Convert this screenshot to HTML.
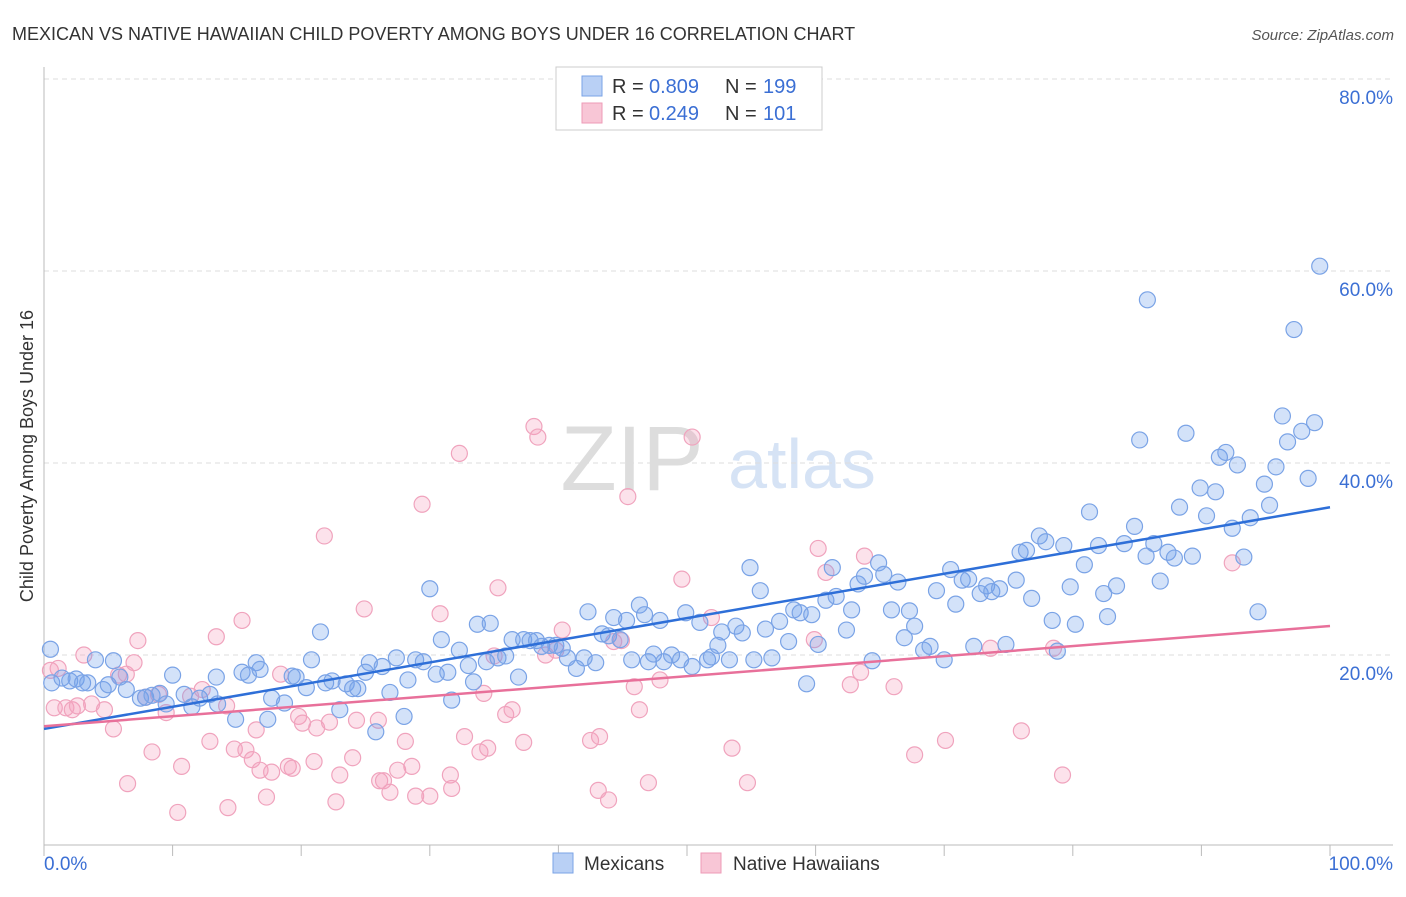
<!DOCTYPE html>
<html><head><meta charset="utf-8"><style>
body{margin:0;background:#fff;font-family:"Liberation Sans",sans-serif;}
svg text{font-family:"Liberation Sans",sans-serif;}
</style></head><body>
<svg id="chart" width="1406" height="892" xmlns="http://www.w3.org/2000/svg">
<text x="12" y="40" font-size="18" fill="#333">MEXICAN VS NATIVE HAWAIIAN CHILD POVERTY AMONG BOYS UNDER 16 CORRELATION CHART</text>
<text x="1394" y="40" font-size="15" fill="#555" font-style="italic" text-anchor="end">Source: ZipAtlas.com</text>
<text x="33" y="456" font-size="18" fill="#333" text-anchor="middle" transform="rotate(-90 33 456)">Child Poverty Among Boys Under 16</text>
<g><text x="632" y="490" font-size="92" fill="#ddd" font-family="Liberation Serif" text-anchor="middle">ZIP</text><text x="802" y="488" font-size="70" fill="#d6e3f5" text-anchor="middle">atlas</text></g>
<g id="grid"></g><g id="axes"></g><g id="pts"></g><g id="lines"></g>
<g>
<rect x="556" y="67" width="266" height="63" fill="#fff" stroke="#ccc"/>
<rect x="582" y="76" width="20" height="20" fill="#b9d0f5" stroke="#7aa3e6"/>
<rect x="582" y="103" width="20" height="20" fill="#f8c6d6" stroke="#ee9bb7"/>
<text x="612" y="93" font-size="20" fill="#333">R =</text><text x="649" y="93" font-size="20" fill="#3b6fd4">0.809</text>
<text x="725" y="93" font-size="20" fill="#333">N =</text><text x="763" y="93" font-size="20" fill="#3b6fd4">199</text>
<text x="612" y="120" font-size="20" fill="#333">R =</text><text x="649" y="120" font-size="20" fill="#3b6fd4">0.249</text>
<text x="725" y="120" font-size="20" fill="#333">N =</text><text x="763" y="120" font-size="20" fill="#3b6fd4">101</text>
</g>
<g>
<rect x="553" y="853" width="20" height="20" fill="#b9d0f5" stroke="#7aa3e6"/>
<text x="584" y="870" font-size="19" fill="#333">Mexicans</text>
<rect x="701" y="853" width="20" height="20" fill="#f8c6d6" stroke="#ee9bb7"/>
<text x="733" y="870" font-size="19" fill="#333">Native Hawaiians</text>
</g>
</svg>
<script>
const yTicks=[20,40,60,80];
const yTickLabels=["20.0%","40.0%","60.0%","80.0%"];
const xTicks=[0,10,20,30,40,50,60,70,80,90,100];
const mexX=[0.5,0.6,1.4,2.0,2.5,3.0,3.4,4.0,4.6,5.0,5.4,5.9,6.4,7.5,7.9,8.4,9.0,9.5,10.0,10.9,11.5,12.1,12.9,13.4,13.5,14.9,15.4,15.9,16.5,16.8,17.4,17.7,18.7,19.3,19.6,20.4,20.8,21.5,21.9,22.4,23.0,23.5,24.0,24.4,25.0,25.3,25.8,26.3,26.9,27.4,28.0,28.3,28.9,29.5,30.0,30.5,30.9,31.4,31.7,32.3,33.0,33.4,33.7,34.4,34.7,35.3,35.9,36.4,36.9,37.3,37.8,38.3,38.7,39.3,39.8,40.3,40.7,41.4,42.0,42.3,42.9,43.4,43.9,44.3,44.8,45.3,45.7,46.3,46.7,47.0,47.4,47.9,48.2,48.8,49.5,49.9,50.4,51.0,51.6,51.9,52.4,52.7,53.3,53.8,54.3,54.9,55.2,55.7,56.1,56.6,57.2,57.9,58.3,58.8,59.3,59.7,60.2,60.8,61.3,61.6,62.4,62.8,63.3,63.8,64.4,64.9,65.3,65.9,66.4,66.9,67.3,67.7,68.4,68.9,69.4,70.0,70.5,70.9,71.4,71.9,72.3,72.8,73.3,73.7,74.3,74.8,75.6,75.9,76.4,76.8,77.4,77.9,78.4,78.8,79.3,79.8,80.2,80.9,81.3,82.0,82.4,82.7,83.4,84.0,84.8,85.2,85.7,85.8,86.3,86.8,87.4,87.9,88.3,88.8,89.3,89.9,90.4,91.1,91.4,91.9,92.4,92.8,93.3,93.8,94.4,94.9,95.3,95.8,96.3,96.7,97.2,97.8,98.3,98.8,99.2];
const mexY=[20.6,17.1,17.6,17.3,17.5,17.1,17.1,19.5,16.4,16.9,19.4,17.7,16.4,15.5,15.6,15.8,16.0,14.9,17.9,15.9,14.6,15.5,15.9,17.7,14.9,13.3,18.2,17.9,19.2,18.5,13.3,15.5,15.0,17.8,17.7,16.6,19.5,22.4,17.1,17.3,14.3,17.0,16.5,16.5,18.2,19.2,12.0,18.8,16.1,19.7,13.6,17.4,19.5,19.3,26.9,18.0,21.6,18.2,15.3,20.5,18.9,17.2,23.2,19.3,23.3,19.7,19.9,21.6,17.7,21.6,21.5,21.5,20.9,21.0,21.0,20.7,19.7,18.6,19.7,24.5,19.2,22.2,22.0,23.9,21.6,23.6,19.5,25.2,24.2,19.3,20.1,23.6,19.3,20.0,19.5,24.4,18.8,23.4,19.5,19.8,21.0,22.4,19.5,23.0,22.3,29.1,19.5,26.7,22.7,19.7,23.5,21.4,24.7,24.4,17.0,24.2,21.1,25.7,29.1,26.1,22.6,24.7,27.4,28.2,19.4,29.6,28.4,24.7,27.6,21.8,24.6,23.0,20.5,20.9,26.7,19.5,28.9,25.3,27.8,27.9,20.9,26.4,27.2,26.6,26.9,21.1,27.8,30.7,30.9,25.9,32.4,31.8,23.6,20.4,31.4,27.1,23.2,29.4,34.9,31.4,26.4,24.0,27.2,31.6,33.4,42.4,30.3,57.0,31.6,27.7,30.7,30.1,35.4,43.1,30.3,37.4,34.5,37.0,40.6,41.1,33.2,39.8,30.2,34.3,24.5,37.8,35.6,39.6,44.9,42.2,53.9,43.3,38.4,44.2,60.5];
const hawX=[0.5,0.8,1.1,1.7,2.2,2.6,3.1,3.7,4.7,5.4,5.8,6.4,6.5,7.0,7.3,7.9,8.4,8.9,9.5,10.4,10.7,11.4,12.3,12.9,13.4,14.2,14.3,14.8,15.4,15.7,16.2,16.5,16.8,17.3,17.7,18.4,19.0,19.3,19.8,20.1,21.0,21.2,21.8,22.2,22.7,23.0,24.0,24.3,24.9,26.0,26.1,26.4,26.9,27.5,28.1,28.6,28.9,29.4,30.0,30.8,31.6,31.7,32.3,32.7,33.9,34.2,34.5,35.0,35.3,35.9,36.4,37.3,38.1,38.4,39.0,39.8,40.3,42.5,43.1,43.2,43.9,44.3,44.9,45.4,45.9,46.3,47.0,47.9,49.6,50.4,51.9,53.5,54.7,59.9,60.2,60.8,62.7,63.5,63.8,66.1,67.7,70.1,73.6,76.0,78.5,79.2,92.4];
const hawY=[18.4,14.5,18.6,14.5,14.3,14.7,20.0,14.9,14.3,12.3,17.9,18.0,6.6,19.2,21.5,15.6,9.9,15.9,14.0,3.6,8.4,15.7,16.4,11.0,21.9,14.7,4.1,10.2,23.6,10.1,9.1,12.2,8.0,5.2,7.8,18.0,8.4,8.2,13.6,12.9,8.9,12.4,32.4,13.0,4.7,7.5,9.3,13.2,24.8,13.2,6.9,6.9,5.7,8.0,11.0,8.4,5.3,35.7,5.3,24.3,7.5,6.1,41.0,11.5,9.9,16.0,10.3,19.9,27.0,13.8,14.3,10.9,43.8,42.7,20.0,20.5,22.6,11.1,5.9,11.5,4.9,21.4,21.5,36.5,16.7,14.3,6.7,17.4,27.9,42.7,23.9,10.3,6.7,21.6,31.1,28.6,16.9,18.2,30.3,16.7,9.6,11.1,20.7,12.1,20.7,7.5,29.6];

const X0=44,X1=1330,Y0=847,YS=9.6;
const sx=v=>X0+(X1-X0)*v/100, sy=v=>Y0-v*YS;
const NS="http://www.w3.org/2000/svg";
function mk(tag,attrs,parent){const e=document.createElementNS(NS,tag);for(const k in attrs)e.setAttribute(k,attrs[k]);document.getElementById(parent).appendChild(e);return e;}
yTicks.forEach((t,i)=>{
  const g=mk('line',{x1:44,x2:1393,y1:sy(t),y2:sy(t),stroke:'#ddd','stroke-dasharray':'5,4'},'grid');
  
  
  const l=mk('text',{x:1393,y:sy(t)+25,'text-anchor':'end','font-size':19,fill:'#3b6fd4'},'grid');
  l.textContent=yTickLabels[i];
  
  
});
const ax=mk('line',{x1:44,x2:1393,y1:845,y2:845,stroke:'#bbb'},'axes');


const ay=mk('line',{x1:44,x2:44,y1:67,y2:845,stroke:'#bbb'},'axes');


xTicks.forEach(t=>{
  const k=mk('line',{x1:sx(t),x2:sx(t),y1:845,y2:856,stroke:'#bbb'},'axes');
  
  
});
const xl0=mk('text',{x:44,y:870,'font-size':19,fill:'#3b6fd4'},'axes');xl0.textContent='0.0%';


const xl1=mk('text',{x:1393,y:870,'font-size':19,fill:'#3b6fd4','text-anchor':'end'},'axes');xl1.textContent='100.0%';


function pts(xs,ys,fill,stroke,name){
  xs.forEach((x,i)=>{
    const c=mk('circle',{cx:sx(x),cy:sy(ys[i]),r:8,fill:fill,stroke:stroke,'stroke-width':1.2},'pts');
    
    
  });
}
pts(hawX,hawY,'rgba(245,160,190,0.3)','#f0a3bd','native-hawaiian-point');
pts(mexX,mexY,'rgba(110,160,235,0.3)','#7aa3e6','mexican-point');
function fit(xs,ys){const n=xs.length;let mx=0,my=0;xs.forEach((x,i)=>{mx+=x;my+=ys[i];});mx/=n;my/=n;let sxy=0,sxx=0;xs.forEach((x,i)=>{sxy+=(x-mx)*(ys[i]-my);sxx+=(x-mx)**2;});const b=sxy/sxx;return [my-b*mx,b];}
function line(xs,ys,col,name){const [a,b]=fit(xs,ys);
  const l=mk('line',{x1:sx(0),y1:sy(a),x2:sx(100),y2:sy(a+100*b),stroke:col,'stroke-width':2.5},'lines');
  
  
}
line(mexX,mexY,'#2e6fd8','mexican-trendline');
line(hawX,hawY,'#e8709a','native-hawaiian-trendline');
</script>
</body></html>
